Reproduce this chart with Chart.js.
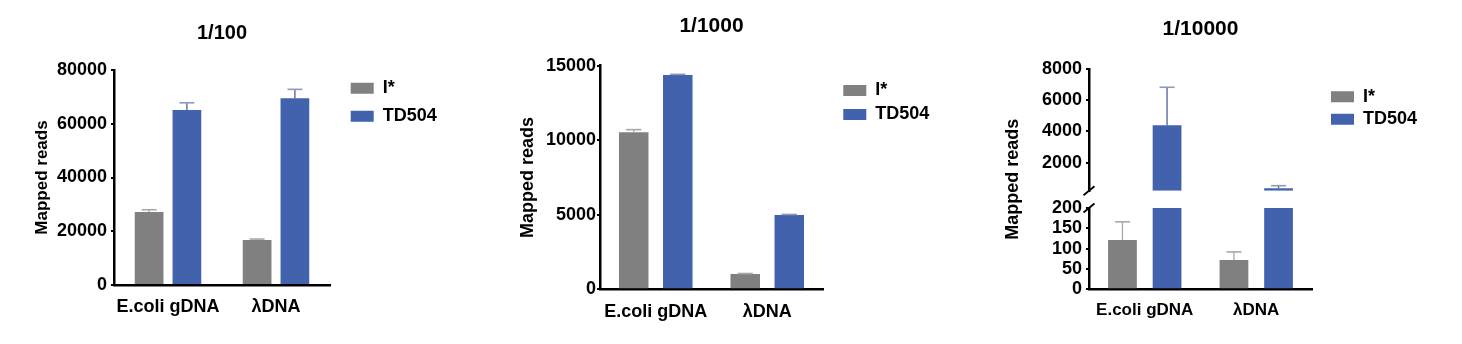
<!DOCTYPE html>
<html><head><meta charset="utf-8">
<script src="https://cdn.jsdelivr.net/npm/chart.js@4/dist/chart.umd.min.js"></script>
<style>
html,body{margin:0;padding:0;background:#fff;width:1462px;height:344px;overflow:hidden}
canvas{position:absolute;top:0}
</style></head>
<body>
<canvas id="p1" width="490" height="344" style="left:0px"></canvas>
<canvas id="p2" width="490" height="344" style="left:490px"></canvas>
<canvas id="p3" width="482" height="344" style="left:980px"></canvas>
<script>
// ---------- data ----------
const categories = ['E.coli gDNA', 'λDNA'];
const seriesNames = ['I*', 'TD504'];
const panelTitles = ['1/100', '1/1000', '1/10000'];
const yTitle = 'Mapped reads';

// 1/100
const p1_I = [27200, 16750];
const p1_I_sd = [800, 350];
const p1_TD = [65100, 69500];
const p1_TD_sd = [2700, 3300];
const p1_ticks = [0, 20000, 40000, 60000, 80000];

// 1/1000
const p2_I = [10530, 1030];
const p2_I_sd = [180, 30];
const p2_TD = [14380, 4990];
const p2_TD_sd = [40, 30];
const p2_ticks = [0, 5000, 10000, 15000];

// 1/10000 (broken axis)
const p3_I = [121, 72];
const p3_I_sd = [45, 20];
const p3_TD = [4390, 355];
const p3_TD_sd = [2440, 165];
const p3_lowTicks = [0, 50, 100, 150, 200];
const p3_highTicks = [2000, 4000, 6000, 8000];
const p3_lowRange = [0, 200];
const p3_highRange = [200, 8000];

// ---------- styles ----------
const FONT = "'Liberation Sans', Arial, Helvetica, sans-serif";
const GRAY = '#808080';
const BLUE = '#4262AD';
const GRAY_ERR = '#a8a8a8';
const BLUE_ERR_LINE = '#4d5f98';
const BLUE_ERR_CAP = '#8f98b8';

const bold = (size) => ({family: FONT, size: size, weight: 'bold'});
const addErr = (vals, sd) => vals.map((v, i) => v + sd[i]);

// ---------- plugins ----------
const errorBars = {
  id: 'errorBars',
  afterDatasetsDraw(chart) {
    const ctx = chart.ctx;
    chart.data.datasets.forEach((ds, di) => {
      if (!ds.errTop) return;
      const meta = chart.getDatasetMeta(di);
      const ys = chart.scales[meta.yAxisID];
      meta.data.forEach((el, i) => {
        const raw = ds.data[i];
        if (raw === null || raw === undefined) return;
        const v = Array.isArray(raw) ? raw[1] : raw;
        const t = ds.errTop[i];
        if (t < ys.min || t > ys.max) return;
        const x = el.x;
        const y0 = ys.getPixelForValue(v);
        const y1 = ys.getPixelForValue(t);
        const half = el.width * 0.26;
        ctx.save();
        ctx.lineWidth = 1.3;
        ctx.strokeStyle = ds.errLine;
        ctx.beginPath(); ctx.moveTo(x, y0); ctx.lineTo(x, y1); ctx.stroke();
        ctx.lineWidth = 1.6;
        ctx.strokeStyle = ds.errCap;
        ctx.beginPath(); ctx.moveTo(x - half, y1); ctx.lineTo(x + half, y1); ctx.stroke();
        ctx.restore();
      });
    });
  }
};

const legendPlace = {
  id: 'legendPlace',
  afterLayout(chart, args, o) {
    const l = chart.legend;
    if (!l || o.left === undefined) return;
    const h = l.bottom - l.top;
    l.left = o.left; l.right = o.left + o.width;
    l.top = o.top; l.bottom = o.top + h;
  }
};

const axisBreak = {
  id: 'axisBreak',
  afterDraw(chart, args, o) {
    if (!o || !o.upper) return;
    const up = chart.scales[o.upper], lo = chart.scales[o.lower];
    const x = chart.chartArea.left;
    const ctx = chart.ctx;
    ctx.save();
    ctx.strokeStyle = '#000';
    ctx.lineWidth = 1.8;
    [up.bottom, lo.top].forEach(y => {
      ctx.beginPath();
      ctx.moveTo(x - o.dx, y + o.dy);
      ctx.lineTo(x + o.dx, y - o.dy);
      ctx.stroke();
    });
    ctx.restore();
  }
};

// ---------- helpers ----------
function yScale(ticksArr, range, o) {
  const s = {
    type: 'linear', position: 'left', min: range[0], max: range[1],
    afterBuildTicks: sc => { sc.ticks = ticksArr.map(v => ({value: v})); },
    afterFit: sc => { sc.width = o.width; },
    ticks: {color: '#000', font: bold(18), padding: o.tickPad, autoSkip: false, callback: v => String(v)},
    grid: {display: true, drawOnChartArea: false, drawTicks: true, tickLength: 3, color: '#000', lineWidth: 2},
    border: {display: true, color: '#000', width: 2.5},
    title: o.title ? {display: true, text: yTitle, color: '#000', font: bold(o.title.size), padding: {top: o.title.pad, bottom: 0}} : {display: false}
  };
  if (o.stack) { s.stack = o.stack; s.stackWeight = o.stackWeight; s.stacked = false; }
  return s;
}
function xScale(o) {
  return {
    type: 'category', offset: true,
    grid: {display: false, drawTicks: false},
    border: {display: true, color: '#000', width: 2.5},
    ticks: {color: '#000', font: bold(o.size), padding: o.pad, autoSkip: false, maxRotation: 0},
    afterFit: sc => { sc.height = 40; }
  };
}
function commonPlugins(o) {
  return {
    tooltip: {enabled: false},
    title: {display: true, text: o.title, color: '#000', font: bold(o.titleSize), padding: {top: o.tTop, bottom: o.tBottom}, fullSize: false},
    legend: {
      position: 'right', align: 'start', maxWidth: 60,
      labels: {boxWidth: 23, boxHeight: 11, padding: o.lPad, color: '#000', font: bold(18),
        filter: (item, data) => !data.datasets[item.datasetIndex].hideInLegend}
    },
    legendPlace: {left: o.lLeft, top: o.lTop, width: 140}
  };
}
function simpleDatasets(I, Isd, TD, TDsd, bp, cp) {
  return [
    {label: seriesNames[0], data: I, backgroundColor: GRAY, borderWidth: 0, barPercentage: bp, categoryPercentage: cp,
      errTop: addErr(I, Isd), errLine: GRAY_ERR, errCap: GRAY_ERR},
    {label: seriesNames[1], data: TD, backgroundColor: BLUE, borderWidth: 0, barPercentage: bp, categoryPercentage: cp,
      errTop: addErr(TD, TDsd), errLine: BLUE_ERR_LINE, errCap: BLUE_ERR_CAP}
  ];
}

// ---------- panel 1 ----------
new Chart(document.getElementById('p1'), {
  type: 'bar',
  data: {labels: categories, datasets: simpleDatasets(p1_I, p1_I_sd, p1_TD, p1_TD_sd, 0.76, 0.70)},
  options: {
    responsive: false, animation: false, devicePixelRatio: 1, events: [],
    layout: {padding: {left: 0, top: 0, right: 100, bottom: 19}},
    scales: {
      x: xScale({size: 18, pad: 11.3}),
      y: yScale(p1_ticks, [0, 80000], {width: 114, tickPad: 4, title: {size: 17, pad: 32.3}})
    },
    plugins: commonPlugins({title: panelTitles[0], titleSize: 20, tTop: 21.5, tBottom: 24.5, lPad: 10, lLeft: 340.7, lTop: 69.3})
  },
  plugins: [errorBars, legendPlace]
});

// ---------- panel 2 ----------
new Chart(document.getElementById('p2'), {
  type: 'bar',
  data: {labels: categories, datasets: simpleDatasets(p2_I, p2_I_sd, p2_TD, p2_TD_sd, 0.67, 0.79)},
  options: {
    responsive: false, animation: false, devicePixelRatio: 1, events: [],
    layout: {padding: {left: 0, top: 0, right: 97, bottom: 14.7}},
    scales: {
      x: xScale({size: 18, pad: 12.1}),
      y: yScale(p2_ticks, [0, 15000], {width: 110, tickPad: 1, title: {size: 18, pad: 27.2}})
    },
    plugins: commonPlugins({title: panelTitles[1], titleSize: 21, tTop: 14.1, tBottom: 26.4, lPad: 6, lLeft: 347.3, lTop: 75.5})
  },
  plugins: [errorBars, legendPlace]
});

// ---------- panel 3 (broken y axis) ----------
const lowMax = p3_lowRange[1];
const highMin = p3_highRange[0];
const p3_datasets = [
  {label: seriesNames[0], data: p3_I.map(v => Math.min(v, lowMax)), yAxisID: 'yBot', stack: 'I',
    backgroundColor: GRAY, borderWidth: 0, barPercentage: 0.645, categoryPercentage: 0.8,
    errTop: addErr(p3_I, p3_I_sd), errLine: GRAY_ERR, errCap: GRAY_ERR},
  {label: seriesNames[1], data: p3_TD.map(v => Math.min(v, lowMax)), yAxisID: 'yBot', stack: 'T',
    backgroundColor: BLUE, borderWidth: 0, barPercentage: 0.645, categoryPercentage: 0.8,
    errTop: addErr(p3_TD, p3_TD_sd), errLine: BLUE_ERR_LINE, errCap: BLUE_ERR_CAP},
  {label: seriesNames[0], data: p3_I.map(v => v > highMin ? [highMin, v] : null), yAxisID: 'yTop', stack: 'I',
    backgroundColor: GRAY, borderWidth: 0, barPercentage: 0.645, categoryPercentage: 0.8, hideInLegend: true,
    errTop: addErr(p3_I, p3_I_sd), errLine: GRAY_ERR, errCap: GRAY_ERR},
  {label: seriesNames[1], data: p3_TD.map(v => v > highMin ? [highMin, v] : null), yAxisID: 'yTop', stack: 'T',
    backgroundColor: BLUE, borderWidth: 0, barPercentage: 0.645, categoryPercentage: 0.8, hideInLegend: true,
    errTop: addErr(p3_TD, p3_TD_sd), errLine: BLUE_ERR_LINE, errCap: BLUE_ERR_CAP}
];

new Chart(document.getElementById('p3'), {
  type: 'bar',
  data: {labels: categories, datasets: p3_datasets},
  options: {
    responsive: false, animation: false, devicePixelRatio: 1, events: [],
    layout: {padding: {left: 0, top: 0, right: 90, bottom: 14.7}},
    scales: {
      x: xScale({size: 17, pad: 10.85}),
      yBot: yScale(p3_lowTicks, p3_lowRange, {width: 65, tickPad: 4, stack: 'left', stackWeight: 81.3}),
      yGap: {type: 'linear', position: 'left', min: 0, max: 1, stack: 'left', stackWeight: 17.3,
        grid: {display: false}, border: {display: false}, ticks: {display: false},
        afterFit: sc => { sc.width = 65; }},
      yTop: yScale(p3_highTicks, p3_highRange, {width: 65, tickPad: 4, stack: 'left', stackWeight: 121.7}),
      yLabel: {type: 'linear', position: 'left', weight: 1, min: 0, max: 1,
        grid: {display: false}, border: {display: false}, ticks: {display: false},
        title: {display: true, text: yTitle, color: '#000', font: bold(18), padding: {top: 22.7, bottom: 0}},
        afterFit: sc => { sc.width = 44; }}
    },
    plugins: Object.assign(
      commonPlugins({title: panelTitles[2], titleSize: 21, tTop: 16.7, tBottom: 27.1, lPad: 4.4, lLeft: 346.6, lTop: 83.4}),
      {axisBreak: {upper: 'yTop', lower: 'yBot', dx: 5.5, dy: 4.5}}
    )
  },
  plugins: [errorBars, legendPlace, axisBreak]
});
</script>
</body></html>
